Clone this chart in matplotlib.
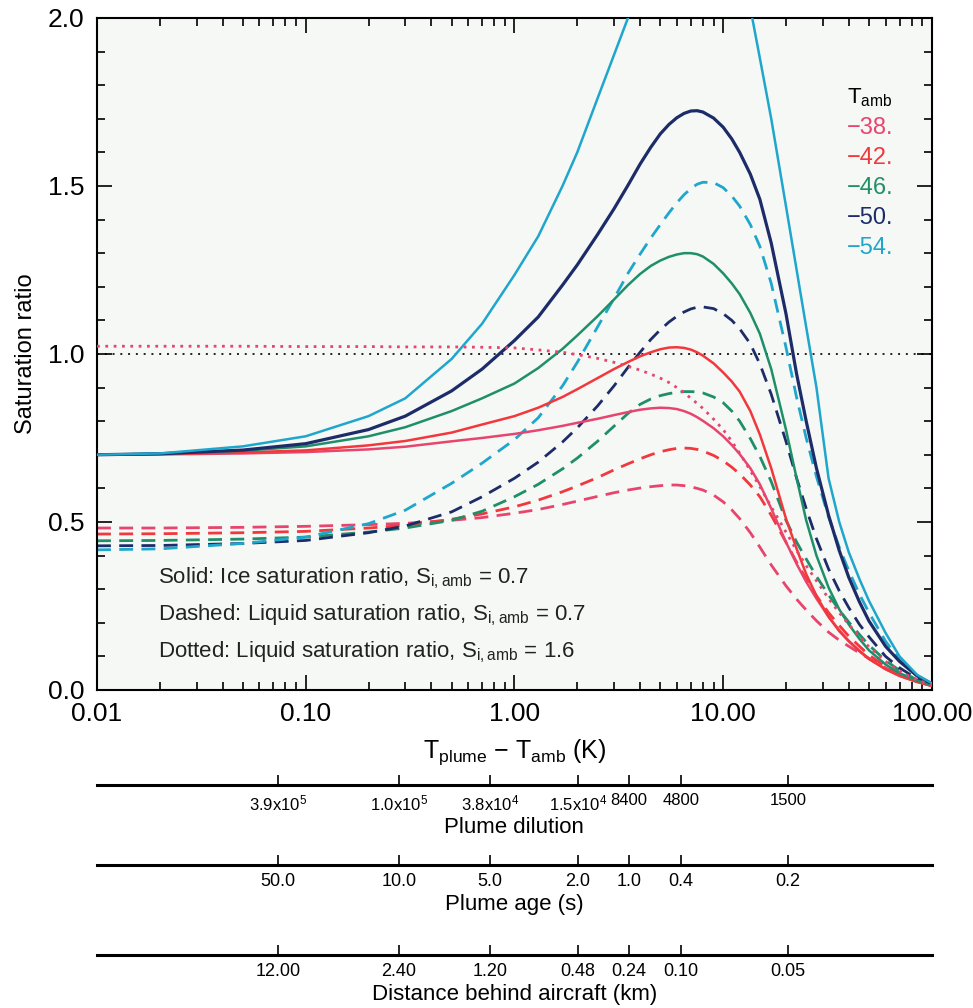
import matplotlib
matplotlib.use('Agg')
import matplotlib.pyplot as plt
from matplotlib.ticker import FixedLocator, NullLocator, MultipleLocator, LogLocator, NullFormatter

plt.rcParams['font.family'] = ['Liberation Sans', 'DejaVu Sans']
plt.rcParams['mathtext.default'] = 'regular'

# T_plume - T_amb (K)
t_diff = [0.01, 0.02, 0.05, 0.1, 0.2, 0.3, 0.5, 0.7, 1.0, 1.3, 1.7, 2.0, 2.5, 3.0, 3.5, 4.0, 4.5, 5.0,
          5.5, 6.0, 6.5, 7.0, 7.5, 8.0, 9.0, 10, 11, 12, 13.5, 15, 17, 20, 22.5, 25, 28, 32, 36, 40,
          45, 50, 60, 70, 85, 100]

# solid: ice saturation ratio, S_i,amb = 0.7
ice_m38 = [.700, .701, .704, .708, .716, .724, .740, .750, .762, .773, .786, .795, .807, .818, .827, .834, .838, .840,
           .839, .836, .830, .822, .812, .801, .779, .755, .729, .702, .660, .612, .540, .440, .375, .322, .272, .218, .178, .146,
           .117, .093, .062, .042, .024, .012]
ice_m42 = [.700, .702, .707, .713, .728, .741, .766, .790, .815, .840, .872, .895, .928, .955, .976, .993, 1.005, 1.014,
           1.019, 1.020, 1.018, 1.013, 1.005, .995, .972, .945, .918, .888, .830, .760, .660, .510, .420, .345, .280, .218, .175, .145,
           .115, .092, .062, .042, .024, .013]
ice_m46 = [.700, .703, .712, .725, .755, .782, .830, .868, .912, .958, 1.015, 1.055, 1.112, 1.162, 1.205, 1.238, 1.262, 1.278,
           1.289, 1.296, 1.300, 1.300, 1.297, 1.290, 1.268, 1.240, 1.210, 1.178, 1.122, 1.060, .955, .775, .630, .505, .400, .305, .240, .195,
           .152, .118, .076, .050, .028, .015]
ice_m50 = [.700, .703, .714, .733, .775, .815, .890, .955, 1.040, 1.110, 1.205, 1.265, 1.355, 1.432, 1.502, 1.565, 1.615, 1.655,
           1.683, 1.703, 1.716, 1.723, 1.724, 1.720, 1.702, 1.675, 1.640, 1.600, 1.535, 1.460, 1.330, 1.120, .940, .800, .660, .520, .415, .335,
           .262, .205, .130, .085, .042, .018]
ice_m54 = [.700, .704, .725, .755, .815, .868, .985, 1.090, 1.235, 1.350, 1.500, 1.600, 1.760, 1.890, 2.000, 2.080, 2.150, 2.210,
           2.260, 2.300, 2.330, 2.350, 2.360, 2.360, 2.340, 2.300, 2.240, 2.170, 2.030, 1.880, 1.700, 1.440, 1.250, 1.080, .900, .630, .500, .410,
           .330, .265, .170, .100, .045, .020]

# dashed: liquid saturation ratio, S_i,amb = 0.7
liq_m38 = [.482, .482, .484, .487, .492, .496, .505, .513, .526, .537, .552, .562, .576, .587, .595, .601, .605, .608,
           .610, .610, .608, .605, .600, .595, .580, .560, .536, .510, .468, .425, .372, .310, .270, .238, .206, .172, .148, .130,
           .110, .094, .066, .045, .025, .012]
liq_m42 = [.464, .465, .468, .472, .482, .490, .508, .524, .545, .565, .590, .607, .632, .655, .673, .688, .700, .709,
           .715, .719, .720, .719, .716, .711, .698, .682, .663, .643, .610, .575, .520, .440, .380, .330, .280, .230, .192, .160,
           .130, .104, .070, .047, .026, .013]
liq_m46 = [.444, .445, .449, .455, .470, .482, .505, .532, .575, .612, .658, .690, .740, .785, .823, .850, .866, .876,
           .882, .886, .888, .888, .887, .884, .872, .855, .830, .800, .748, .695, .620, .505, .440, .390, .338, .283, .238, .202,
           .165, .133, .088, .058, .030, .014]
liq_m50 = [.429, .430, .436, .445, .468, .488, .530, .575, .630, .678, .738, .780, .845, .905, .960, 1.005, 1.043, 1.072,
           1.095, 1.112, 1.125, 1.134, 1.139, 1.140, 1.135, 1.120, 1.100, 1.075, 1.030, .970, .880, .740, .630, .540, .450, .360, .295, .245,
           .195, .158, .100, .066, .033, .016]
liq_m54 = [.417, .420, .436, .455, .495, .535, .615, .675, .745, .810, .905, .975, 1.080, 1.165, 1.240, 1.297, 1.345, 1.385,
           1.420, 1.450, 1.474, 1.492, 1.505, 1.511, 1.510, 1.495, 1.470, 1.440, 1.385, 1.320, 1.210, 1.020, .870, .750, .635, .515, .425, .355,
           .285, .230, .145, .090, .042, .020]

# dotted: liquid saturation ratio, S_i,amb = 1.6 (T_amb = -38)
liq16_m38 = [1.023, 1.023, 1.023, 1.022, 1.022, 1.021, 1.021, 1.020, 1.018, 1.012, 1.005, .998, .987, .975, .963, .952, .940, .928,
             .915, .900, .885, .868, .853, .838, .806, .775, .740, .705, .653, .605, .545, .470, .415, .370, .325, .272, .230, .195,
             .160, .128, .085, .056, .030, .015]

t_amb = ['38.', '42.', '46.', '50.', '54.']
colors = ['#e8456e', '#f2383c', '#1f8f6a', '#1d2c68', '#1fa6cc']

# positions (in T_plume - T_amb) of the labelled marks on the lower scales
scale_pos = [0.0736, 0.28, 0.764, 2.01, 3.54, 6.28, 20.4]
dilution_lab = [r'3.9x10$^5$', r'1.0x10$^5$', r'3.8x10$^4$', r'1.5x10$^4$', '8400', '4800', '1500']
age_lab = ['50.0', '10.0', '5.0', '2.0', '1.0', '0.4', '0.2']
dist_lab = ['12.00', '2.40', '1.20', '0.48', '0.24', '0.10', '0.05']

fig = plt.figure(figsize=(9.73, 10.08), dpi=100)
ax = fig.add_axes([0.0997, 0.3155, 0.858, 0.6667])
ax.set_facecolor('#f5f8f5')

ice = [ice_m38, ice_m42, ice_m46, ice_m50, ice_m54]
liq = [liq_m38, liq_m42, liq_m46, liq_m50, liq_m54]

ax.axhline(1.0, color='#222222', ls=(0, (1, 3)), lw=1.4, zorder=1)
for i in range(5):
    ax.plot(t_diff, liq[i], color=colors[i], lw=2.0, ls=(0, (5, 3)), zorder=2)
for i in range(5):
    lw = 2.3 if i == 3 else 1.8
    ax.plot(t_diff, ice[i], color=colors[i], lw=lw, zorder=3)
ax.plot(t_diff, liq16_m38, color=colors[0], lw=2.0, ls=(0, (1, 2)), zorder=3)

ax.set_xscale('log')
ax.set_xlim(0.01, 100)
ax.set_ylim(0, 2.0)
ax.xaxis.set_major_locator(FixedLocator([0.01, 0.1, 1, 10, 100]))
ax.set_xticklabels(['0.01', '0.10', '1.00', '10.00', '100.00'])
ax.xaxis.set_minor_locator(LogLocator(base=10, subs=range(2, 10)))
ax.xaxis.set_minor_formatter(NullFormatter())
ax.set_yticks([0, 0.5, 1.0, 1.5, 2.0])
ax.set_yticklabels(['0.0', '0.5', '1.0', '1.5', '2.0'])
ax.yaxis.set_minor_locator(MultipleLocator(0.1))
ax.tick_params(which='both', direction='in', top=True, right=True, labelsize=19, width=1.2)
ax.tick_params(which='major', length=11, pad=9)
ax.tick_params(which='minor', length=6)
for s in ax.spines.values():
    s.set_linewidth(1.5)

ax.set_ylabel('Saturation ratio', fontsize=17, labelpad=8)
ax.set_xlabel(r'T$_{plume}$ $-$ T$_{amb}$ (K)', fontsize=18, labelpad=8)

# legend of ambient temperatures
ax.text(0.898, 0.881, r'T$_{amb}$', transform=ax.transAxes, fontsize=16, va='center')
for i in range(5):
    ax.text(0.898, 0.836 - i * 0.0446, '\u2212' + t_amb[i], transform=ax.transAxes,
            fontsize=17, color=colors[i], va='center')

notes = [r'Solid: Ice saturation ratio, S$_{i,amb}$ = 0.7',
         r'Dashed: Liquid saturation ratio, S$_{i,amb}$ = 0.7',
         r'Dotted: Liquid saturation ratio, S$_{i,amb}$ = 1.6']
for i, n in enumerate(notes):
    ax.text(0.073, 0.166 - i * 0.055, n, transform=ax.transAxes, fontsize=16, va='center', color='#222222')

# extra scales under the plot
extra = [(0.2212, dilution_lab, 'Plume dilution', 12),
         (0.1419, age_lab, 'Plume age (s)', 13),
         (0.0526, dist_lab, 'Distance behind aircraft (km)', 13)]
for ybot, labs, title, fs in extra:
    ax2 = fig.add_axes([0.0997, ybot, 0.858, 0.001])
    ax2.set_xscale('log')
    ax2.set_xlim(0.01, 100)
    ax2.set_ylim(0, 1)
    ax2.patch.set_alpha(0)
    for side in ['top', 'left', 'right']:
        ax2.spines[side].set_visible(False)
    ax2.spines['bottom'].set_linewidth(2.2)
    ax2.set_yticks([])
    ax2.xaxis.set_major_locator(FixedLocator(scale_pos))
    ax2.xaxis.set_minor_locator(NullLocator())
    ax2.set_xticklabels(labs)
    ax2.tick_params(axis='x', direction='in', length=7, width=1.2, labelsize=fs, pad=6)
    ax2.set_xlabel(title, fontsize=16, labelpad=3)

fig.savefig('out.png', dpi=100)
